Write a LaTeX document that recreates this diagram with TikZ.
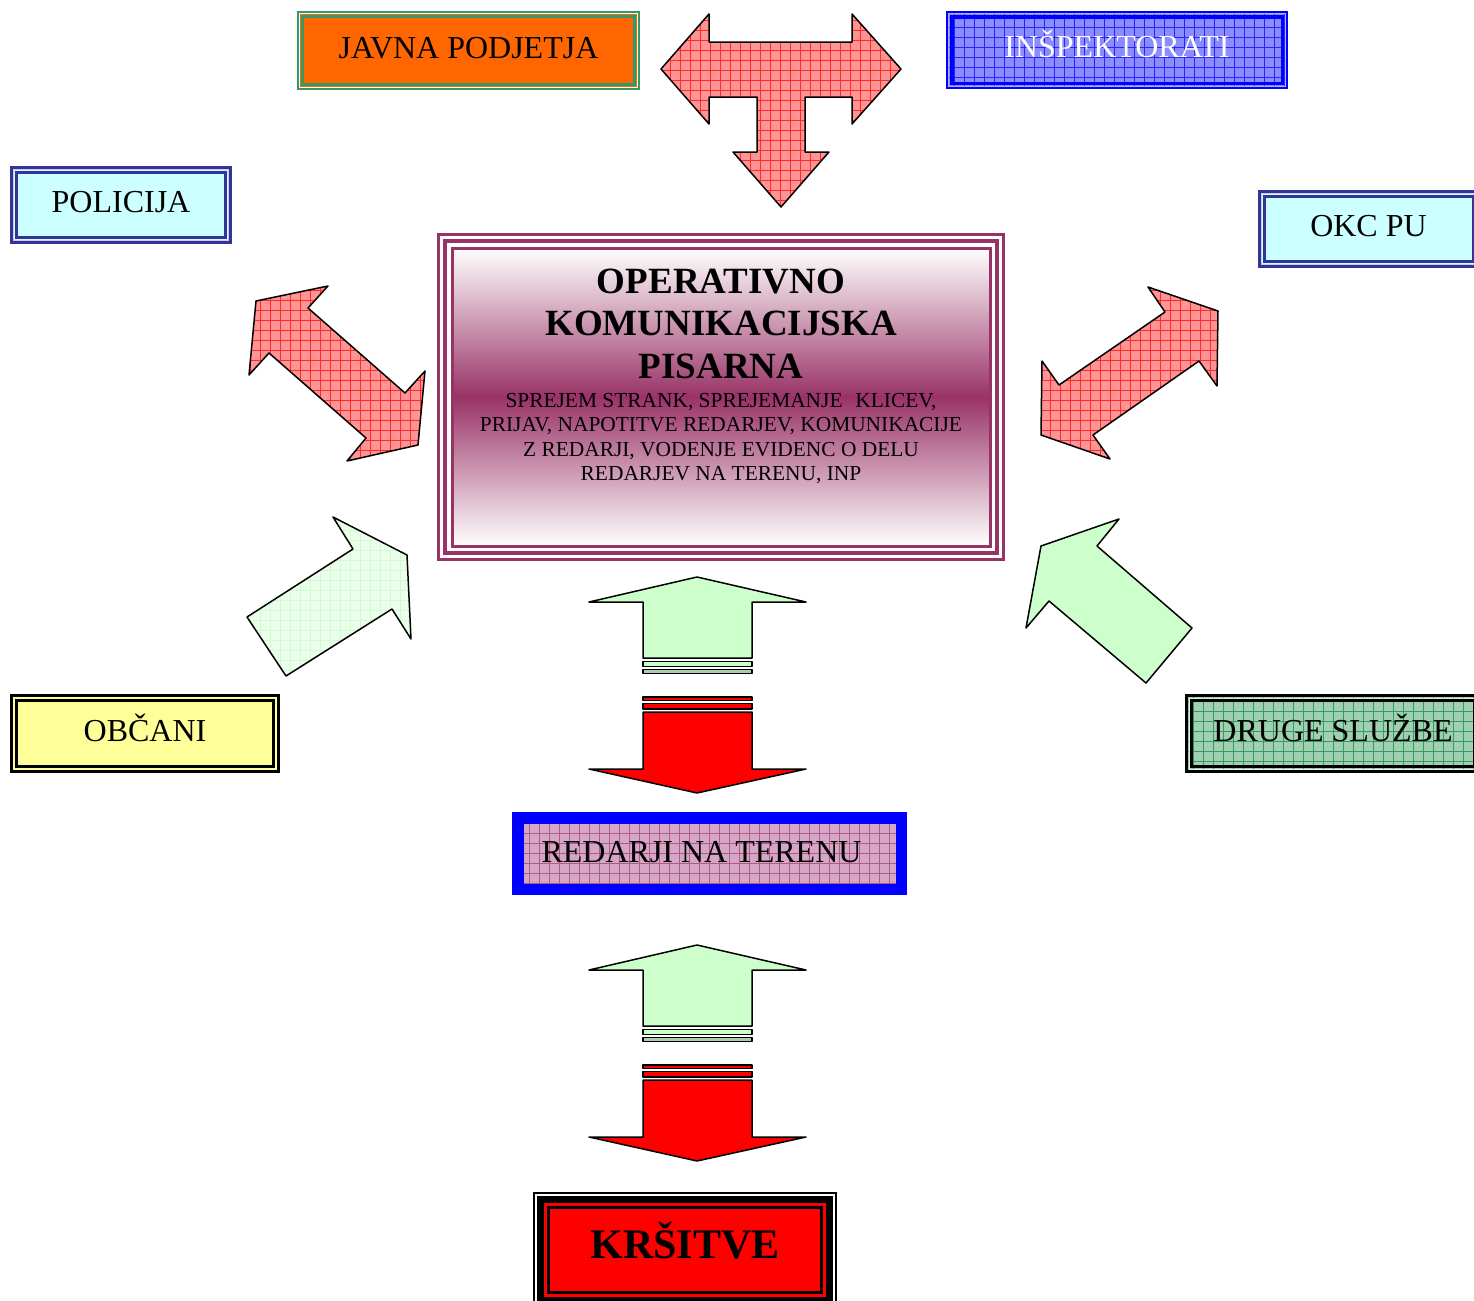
\documentclass[tikz,border=0pt]{standalone}
\usepackage{fontspec}
\setmainfont{Liberation Serif}
\definecolor{plum}{HTML}{993366}
\definecolor{navyb}{HTML}{333399}
\definecolor{cyanf}{HTML}{CCFFFF}
\definecolor{orangef}{HTML}{FF6600}
\definecolor{greenb}{HTML}{339966}
\definecolor{yellowf}{HTML}{FFFF99}
\definecolor{lgreen}{HTML}{CCFFCC}
\definecolor{pgreen}{HTML}{EAFFEA}
\definecolor{pgreeng}{HTML}{D4F8D4}
\definecolor{bluef}{HTML}{8C8CFF}
\definecolor{redf}{HTML}{FF9494}
\definecolor{redg}{HTML}{FF2A2A}
\definecolor{drugef}{HTML}{A0D0B0}
\definecolor{redarf}{HTML}{D6A6C6}
\tikzset{
  x=0.5pt, y=-0.5pt,
  lbl/.style={inner sep=0pt, font=\fontsize{16}{19}\selectfont, text height=10.6pt, text depth=3pt},
  box/.style={lbl, draw, outer sep=0pt, line width=1pt},
  gridded/.style 2 args={fill=#1, path picture={\draw[#2, line width=0.35pt, step=5pt] (path picture bounding box.south west) grid (path picture bounding box.north east);}},
  blockarrow/.style={draw=black, line width=0.75pt, line join=round},
  titletxt/.style={anchor=base, inner sep=0pt, font=\fontsize{18.5}{21}\selectfont\bfseries},
  smalltxt/.style={anchor=base, inner sep=0pt, font=\fontsize{10.7}{12}\selectfont},
}
\newcommand{\insetrect}[4]{\draw[#3, line width=#4] ([shift={(#2,#2)}]#1.north west) rectangle ([shift={(-#2,-#2)}]#1.south east);}
\begin{document}
\begin{tikzpicture}
\useasboundingbox (0,0) rectangle (1474,1301);
\clip (0,0) rectangle (1474,1301);

% ---------- top boxes ----------
\node[box, draw=greenb, fill=orangef, minimum width=170.5pt, minimum height=38.5pt] (javna) at (468.5,50.5) {JAVNA PODJETJA};
\insetrect{javna}{1.5}{white}{0.5pt}
\insetrect{javna}{4.5}{greenb}{1.5pt}

\node[box, draw=blue, gridded={bluef}{blue!85}, text=white, minimum width=170pt, minimum height=38pt] (insp) at (1117,50) {INŠPEKTORATI};
\insetrect{insp}{1.5}{blue!30}{0.5pt}
\insetrect{insp}{4.75}{blue}{1.75pt}

\node[box, draw=navyb, line width=1.5pt, fill=cyanf, minimum width=109.5pt, minimum height=37.5pt] (pol) at (121,205) {POLICIJA};
\insetrect{pol}{2}{navyb!25}{0.5pt}
\insetrect{pol}{5}{navyb}{1.5pt}

\node[box, draw=navyb, line width=1.5pt, fill=cyanf, minimum width=109.5pt, minimum height=37.5pt] (okc) at (1368.5,229) {OKC PU};
\insetrect{okc}{2}{navyb!25}{0.5pt}
\insetrect{okc}{5}{navyb}{1.5pt}

% ---------- T arrow ----------
\draw[blockarrow, gridded={redf}{redg}] (661,69) -- (709,14) -- (709,42) -- (852,42) -- (852,14) -- (901,69) -- (852,124) -- (852,97) -- (805,97) -- (805,152) -- (829,152) -- (781,207) -- (733,152) -- (757,152) -- (757,97) -- (709,97) -- (709,124) -- cycle;

% ---------- central box ----------
\node[draw=plum, line width=1.5pt, outer sep=0pt, inner sep=0pt, fill=white, minimum width=282.5pt, minimum height=162.5pt] (okp) at (721,397) {};
\insetrect{okp}{6.5}{plum}{2pt}
\draw[plum, line width=1.5pt, top color=white, bottom color=white, middle color=plum] ([shift={(13.5,13.5)}]okp.north west) rectangle ([shift={(-13.5,-13.5)}]okp.south east);
\node[titletxt] (t1) at (721,293) {OPERATIVNO};
\node[titletxt] (t2) at (721,335.5) {KOMUNIKACIJSKA};
\node[titletxt] (t3) at (721,378) {PISARNA};
\node[smalltxt] (s1) at (721,407) {SPREJEM STRANK, SPREJEMANJE\hspace{0.6em}KLICEV,};
\node[smalltxt] (s2) at (721,431.5) {PRIJAV, NAPOTITVE REDARJEV, KOMUNIKACIJE};
\node[smalltxt] (s3) at (721,456) {Z REDARJI, VODENJE EVIDENC O DELU};
\node[smalltxt] (s4) at (721,480.5) {REDARJEV NA TERENU, INP};

% ---------- diagonal double arrows ----------
\draw[blockarrow, gridded={redf}{redg}] (256,301) -- (328,286) -- (308,308) -- (405,393) -- (425,371) -- (418,445) -- (347,461) -- (366,438) -- (269,353) -- (249,375) -- cycle;
\draw[blockarrow, gridded={redf}{redg}] (1148,287) -- (1218,311) -- (1217,386) -- (1199,361) -- (1093,435) -- (1110,459) -- (1041,435) -- (1042,361) -- (1059,385) -- (1165,312) -- cycle;

% ---------- green diagonal arrows ----------
\draw[blockarrow, gridded={pgreen}{pgreeng}] (333,517) -- (407,555) -- (411,639) -- (392,609) -- (286,676) -- (247,617) -- (353,549) -- cycle;
\draw[blockarrow, fill=lgreen] (1119,519) -- (1097,546) -- (1192,628) -- (1146,683) -- (1049,601) -- (1026,628) -- (1041,546) -- cycle;

% ---------- lower side boxes ----------
\node[box, draw=black, line width=1.5pt, fill=yellowf, minimum width=133.5pt, minimum height=38pt] (obc) at (145,733.5) {OBČANI};
\insetrect{obc}{5}{black}{1.25pt}

\node[box, draw=black, line width=1.5pt, gridded={drugef}{greenb}, minimum width=146.5pt, minimum height=38pt] (druge) at (1333,733.5) {DRUGE SLUŽBE};
\insetrect{druge}{2.5}{white!70!drugef}{0.5pt}
\insetrect{druge}{5}{black}{1.25pt}

% ---------- vertical up/down arrows ----------
\foreach \dy in {0,368}{
  \draw[blockarrow, fill=lgreen] (697,{577+\dy}) -- (806,{602+\dy}) -- (752,{602+\dy}) -- (752,{658+\dy}) -- (643,{658+\dy}) -- (643,{602+\dy}) -- (589,{602+\dy}) -- cycle;
  \draw[blockarrow, line width=0.6pt, fill=lgreen] (643,{661.5+\dy}) rectangle (752,{666.5+\dy});
  \draw[blockarrow, line width=0.6pt, fill=lgreen!60!gray] (643,{669.5+\dy}) rectangle (752,{673.5+\dy});
  \draw[blockarrow, line width=0.6pt, fill=red] (643,{697+\dy}) rectangle (752,{700.5+\dy});
  \draw[blockarrow, line width=0.6pt, fill=red] (643,{703.5+\dy}) rectangle (752,{709+\dy});
  \draw[blockarrow, fill=red] (643,{712+\dy}) -- (752,{712+\dy}) -- (752,{769+\dy}) -- (806,{769+\dy}) -- (697,{793+\dy}) -- (589,{769+\dy}) -- (643,{769+\dy}) -- cycle;
}

% ---------- REDARJI NA TERENU ----------
\node[draw=blue, line width=5.75pt, outer sep=0pt, inner sep=0pt, gridded={redarf}{plum!80}, minimum width=191.75pt, minimum height=35.75pt] (redar) at (709.5,853.5) {};
\node[lbl] (redartxt) at (701.5,855) {REDARJI NA TERENU};

% ---------- KRŠITVE ----------
\node[draw=black, line width=1pt, outer sep=0pt, inner sep=0pt, fill=white, minimum width=151pt, minimum height=57pt] (krs) at (685,1250) {};
\draw[black, line width=3.65pt, fill=red] ([shift={(6.35,6.35)}]krs.north west) rectangle ([shift={(-6.35,-6.35)}]krs.south east);
\insetrect{krs}{14.5}{black}{1.5pt}
\node[inner sep=0pt, font=\fontsize{21}{24}\selectfont\bfseries, text height=13.9pt, text depth=0pt] (krstxt) at (685,1245) {KRŠITVE};
\end{tikzpicture}
\end{document}
